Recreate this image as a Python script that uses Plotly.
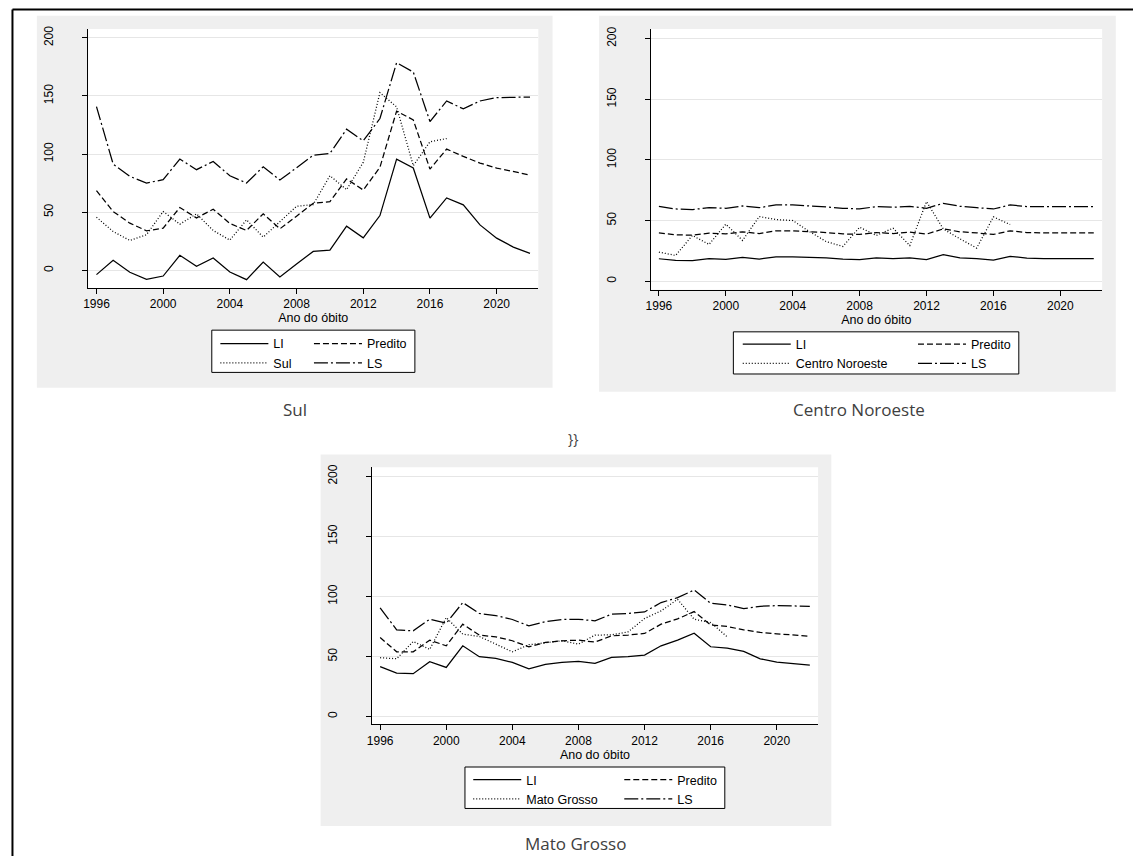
import plotly.graph_objects as go

W, H = 1133, 856

years = list(range(1996, 2023))
obs_years = list(range(1996, 2018))

# ---- Sul ----
sul_li = [-3.7, 8.6, -1.7, -7.7, -4.9, 12.9, 3.4, 10.6, -1.4, -8.0, 7.1, -5.7, 5.4, 16.3, 17.4,
          38.0, 28.0, 47.1, 95.7, 88.0, 44.9, 62.3, 56.3, 39.1, 27.7, 20.0, 14.6]
sul_pred = [68.6, 50.6, 40.6, 34.0, 36.3, 54.0, 45.1, 52.6, 40.3, 34.3, 48.6, 35.7, 46.6, 57.7, 59.1,
            78.6, 69.1, 88.6, 137.0, 129.4, 87.1, 104.3, 98.0, 92.3, 88.0, 84.9, 82.0]
sul_obs = [45.7, 33.4, 25.7, 30.6, 50.6, 39.7, 48.6, 34.3, 26.0, 43.4, 28.6, 42.0, 55.1, 56.6, 81.4,
           69.4, 92.9, 152.9, 140.6, 90.0, 110.6, 113.4]
sul_ls = [140.9, 91.4, 80.9, 75.1, 78.0, 95.7, 86.6, 93.7, 81.4, 75.1, 89.1, 77.7, 88.3, 99.1, 100.6,
          121.4, 111.4, 130.6, 178.6, 170.6, 128.0, 145.7, 138.9, 145.7, 148.6, 149.1, 149.1]

# ---- Centro Noroeste ----
cn_li = [18.6, 17.2, 17.0, 18.6, 18.1, 19.7, 18.3, 20.2, 20.2, 20.0, 19.4, 18.3, 17.8, 19.4, 18.6,
         19.4, 17.8, 21.9, 19.4, 18.6, 17.5, 20.5, 19.2, 18.6, 18.6, 18.6, 18.6]
cn_pred = [39.9, 38.3, 38.0, 39.7, 39.1, 40.8, 39.4, 41.6, 41.6, 41.0, 40.2, 39.1, 38.6, 40.2, 39.4,
           40.5, 38.9, 43.2, 40.8, 39.9, 38.6, 41.6, 40.2, 39.9, 39.9, 39.9, 39.9]
cn_obs = [24.1, 21.3, 37.8, 30.4, 47.1, 33.7, 53.4, 50.9, 50.1, 41.0, 32.8, 28.7, 44.6, 37.8, 43.8,
          29.5, 65.7, 43.2, 35.0, 27.4, 53.1, 46.8]
cn_ls = [61.8, 59.6, 59.1, 60.7, 60.2, 62.1, 60.7, 62.9, 62.9, 62.4, 61.3, 60.2, 59.6, 61.6, 61.0,
         61.8, 60.2, 64.3, 61.8, 60.7, 59.6, 62.9, 61.6, 61.6, 61.6, 61.6, 61.6]

# ---- Mato Grosso ----
mt_li = [41.5, 36.2, 35.7, 45.6, 40.9, 58.9, 49.8, 48.4, 45.1, 39.8, 43.4, 45.1, 45.9, 44.3, 49.2,
         49.8, 51.2, 58.9, 63.6, 69.4, 58.1, 57.0, 54.2, 48.1, 45.4, 44.0, 42.9]
mt_pred = [65.8, 53.9, 53.9, 63.6, 58.9, 76.9, 67.8, 66.4, 63.1, 58.1, 61.7, 63.1, 63.6, 62.0, 67.2,
           67.8, 69.2, 76.9, 81.3, 87.4, 76.3, 75.0, 72.2, 70.0, 68.9, 67.8, 66.9]
mt_obs = [49.0, 48.1, 62.5, 55.9, 82.4, 68.6, 66.7, 60.3, 53.9, 59.8, 61.4, 63.1, 60.3, 67.8, 68.0,
          70.5, 81.6, 88.0, 97.6, 81.0, 78.3, 66.4]
mt_ls = [90.5, 72.2, 71.4, 81.0, 77.7, 94.9, 85.8, 84.1, 80.8, 75.5, 79.1, 80.8, 81.0, 79.7, 85.2,
         85.8, 87.1, 94.9, 99.0, 105.4, 94.3, 92.9, 89.9, 91.8, 92.4, 92.1, 91.8]

captions = ["Sul", "Centro Noroeste", "Mato Grosso"]
x_ticks = [1996, 2000, 2004, 2008, 2012, 2016, 2020]
y_ticks = [0, 50, 100, 150, 200]

FONT = "Liberation Sans, Arial, sans-serif"
CAP_FONT = "Open Sans, sans-serif"
GRAY = "#efefef"


def px(x):
    return x / W


def py(y):
    return 1 - y / H


panels = [
    dict(name="Sul", li=sul_li, pred=sul_pred, obs=sul_obs, ls=sul_ls,
         plot=(83.5, 535.7, 26, 286), gray=(32, 550, 12.7, 386), yr=[-15.2, 207.7],
         leg=(211.3, 305.3, 327.1), box=(207.7, 411.7, 328.3, 370.7), cap=(291, 408)),
    dict(name="Centro Noroeste", li=cn_li, pred=cn_pred, obs=cn_obs, ls=cn_ls,
         plot=(648.4, 1102, 26, 287.7), gray=(596.7, 1115.7, 12.7, 390), yr=[-6.9, 208],
         leg=(736, 912, 327.7), box=(731.6, 1018.3, 330, 372.3), cap=(858, 408)),
    dict(name="Mato Grosso", li=mt_li, pred=mt_pred, obs=mt_obs, ls=mt_ls,
         plot=(368.5, 816.7, 466, 724), gray=(317, 830, 453, 826), yr=[-6.6, 207.5],
         leg=(465.3, 617, 764.7), box=(462, 723, 766.7, 808.3), cap=(573, 843)),
]

fig = go.Figure()
shapes = []
annotations = []
layout = {}

line_w = 1.25
for i, p in enumerate(panels):
    n = "" if i == 0 else str(i + 1)
    xa, ya = "x" + n, "y" + n
    legA = "legend" + ("" if i == 0 else str(2 * i + 1))
    legB = "legend" + str(2 * i + 2)

    fig.add_trace(go.Scatter(x=years, y=p["li"], mode="lines", name="LI",
                             line=dict(color="black", width=line_w),
                             xaxis=xa, yaxis=ya, legend=legA))
    fig.add_trace(go.Scatter(x=obs_years, y=p["obs"], mode="lines", name=p["name"],
                             line=dict(color="black", width=line_w, dash="1px,2px"),
                             xaxis=xa, yaxis=ya, legend=legA))
    fig.add_trace(go.Scatter(x=years, y=p["pred"], mode="lines", name="Predito",
                             line=dict(color="black", width=line_w, dash="6px,3px"),
                             xaxis=xa, yaxis=ya, legend=legB))
    fig.add_trace(go.Scatter(x=years, y=p["ls"], mode="lines", name="LS",
                             line=dict(color="black", width=line_w, dash="14px,3px,2px,3px"),
                             xaxis=xa, yaxis=ya, legend=legB))

    l, r, t, b = p["plot"]
    layout["xaxis" + n] = dict(
        domain=[px(l), px(r)], anchor=ya, range=[1995.5, 2022.5],
        tickvals=x_ticks, ticks="outside", ticklen=5, tickcolor="black",
        showline=True, linecolor="black", linewidth=1, showgrid=False, zeroline=False,
        tickfont=dict(family=FONT, size=12, color="black"),
        title=dict(text="Ano do óbito", font=dict(family=FONT, size=12.5, color="black"), standoff=0),
    )
    layout["yaxis" + n] = dict(
        domain=[py(b), py(t)], anchor=xa, range=p["yr"],
        tickvals=y_ticks, ticks="outside", ticklen=5, tickcolor="black",
        showline=True, linecolor="black", linewidth=1, showgrid=True,
        gridcolor="#e6e6e6", gridwidth=1, zeroline=False, tickangle=-90,
        ticklabelstandoff=24,
        tickfont=dict(family=FONT, size=12, color="black"),
    )

    gl, gr, gt, gb = p["gray"]
    shapes.append(dict(type="rect", xref="paper", yref="paper", layer="below",
                       x0=px(gl), x1=px(gr), y0=py(gb), y1=py(gt),
                       fillcolor=GRAY, line=dict(width=0)))
    shapes.append(dict(type="rect", xref="paper", yref="paper", layer="below",
                       x0=px(l), x1=px(r), y0=py(b), y1=py(t),
                       fillcolor="white", line=dict(width=0)))
    bl, br, bt, bb = p["box"]
    shapes.append(dict(type="rect", xref="paper", yref="paper", layer="above",
                       x0=px(bl), x1=px(br), y0=py(bb), y1=py(bt),
                       fillcolor="white", line=dict(color="black", width=1)))

    lx1, lx2, lt = p["leg"]
    for key, lx in ((legA, lx1), (legB, lx2)):
        layout[key] = dict(x=px(lx), y=py(lt), xanchor="left", yanchor="top",
                           orientation="v", bgcolor="rgba(0,0,0,0)", borderwidth=0,
                           itemwidth=48,
                           font=dict(family=FONT, size=12.5, color="black"),
                           traceorder="normal")

    cx, cy = p["cap"]
    annotations.append(dict(text=captions[i], x=px(cx), y=py(cy), xref="paper", yref="paper",
                            showarrow=False, xanchor="center", yanchor="middle",
                            font=dict(family=CAP_FONT, size=17, color="#404040")))

annotations.append(dict(text="}}", x=px(571), y=py(437), xref="paper", yref="paper",
                        showarrow=False, xanchor="center", yanchor="middle",
                        font=dict(family=CAP_FONT, size=14, color="#404040")))

# outer frame (top and left edges)
shapes.append(dict(type="line", xref="paper", yref="paper", x0=px(7.5), x1=1, y0=py(6.5), y1=py(6.5),
                   line=dict(color="black", width=2)))
shapes.append(dict(type="line", xref="paper", yref="paper", x0=px(7.5), x1=px(7.5), y0=0, y1=py(6.5),
                   line=dict(color="black", width=2)))

fig.update_layout(
    width=W, height=H, margin=dict(l=0, r=0, t=0, b=0),
    paper_bgcolor="white", plot_bgcolor="white",
    shapes=shapes, annotations=annotations, showlegend=True,
    **layout,
)

fig.write_html(
    "out.html",
    config={"displayModeBar": False},
    post_script="document.body.style.margin='0';document.body.style.overflow='hidden';",
)
